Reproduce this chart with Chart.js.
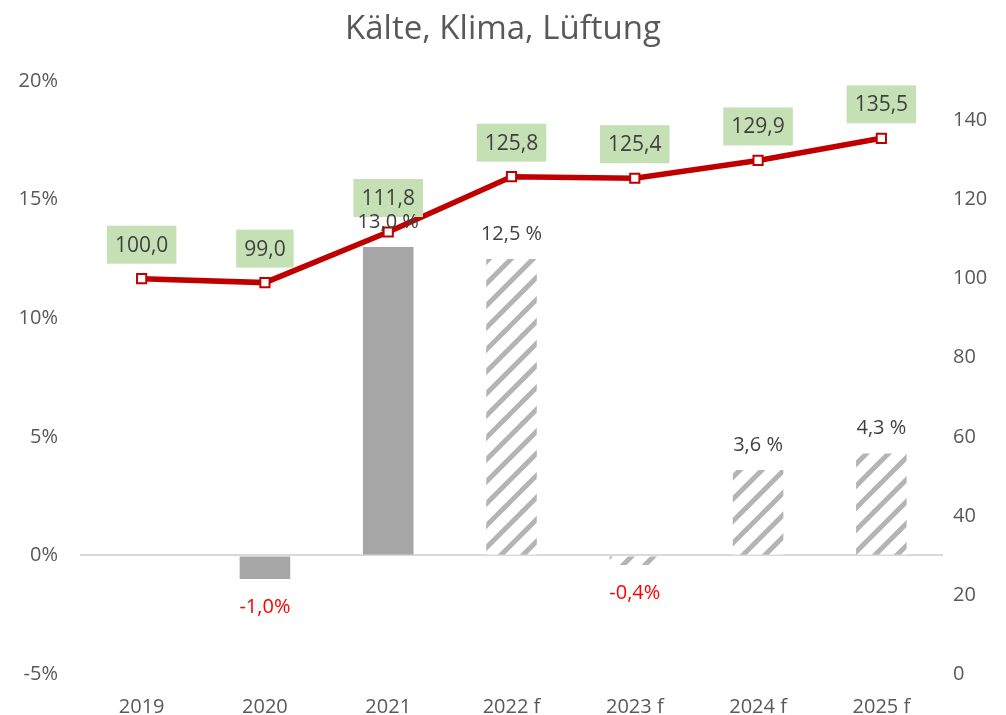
<!DOCTYPE html>
<html>
<head>
<meta charset="utf-8">
<script src="https://cdn.jsdelivr.net/npm/chart.js@4"></script>
<style>
  html, body { margin: 0; padding: 0; background: #fff; }
  #wrap { width: 1006px; height: 715px; }
</style>
</head>
<body>
<div id="wrap"><canvas id="chart" width="1006" height="715"></canvas></div>
<script>
const years = ["2019", "2020", "2021", "2022 f", "2023 f", "2024 f", "2025 f"];
const growth = [null, -1.0, 13.0, 12.5, -0.4, 3.6, 4.3];
const indexValues = [100.0, 99.0, 111.8, 125.8, 125.4, 129.9, 135.5];
const isForecast = [false, false, false, true, true, true, true];
const leftTicks = [-5, 0, 5, 10, 15, 20];
const rightTicks = [0, 20, 40, 60, 80, 100, 120, 140];

const FONT = "'Open Sans', 'Noto Sans', sans-serif";
const fmt = (v) => v.toFixed(1).replace(".", ",");

// diagonal hatch used for forecast bars
const makeHatch = () => {
  const c = document.createElement("canvas");
  c.width = 22; c.height = 22;
  const g = c.getContext("2d");
  g.fillStyle = "#fff";
  g.fillRect(0, 0, 22, 22);
  g.strokeStyle = "#b4b4b4";
  g.lineWidth = 5;
  for (let k = -1; k <= 1; k++) {
    g.beginPath();
    g.moveTo(k * 22 - 2, 24);
    g.lineTo(k * 22 + 24, -2);
    g.stroke();
  }
  return g.createPattern(c, "repeat");
};

const hatch = makeHatch();

const labelPlugin = {
  id: "labels",
  afterDatasetsDraw(chart) {
    const ctx = chart.ctx;
    ctx.save();
    ctx.font = "21px " + FONT;
    ctx.textAlign = "center";
    ctx.textBaseline = "middle";

    chart.getDatasetMeta(0).data.forEach((pt, i) => {
      const text = fmt(indexValues[i]);
      const w = ctx.measureText(text).width + 16;
      const h = 38;
      const cy = pt.y - 34;
      ctx.fillStyle = "#c5e0b4";
      ctx.fillRect(pt.x - w / 2, cy - h / 2, w, h);
      ctx.fillStyle = "#404040";
      ctx.fillText(text, pt.x, cy + 1);
    });

    ctx.font = "20px " + FONT;
    chart.getDatasetMeta(1).data.forEach((bar, i) => {
      const v = growth[i];
      if (v === null) return;
      if (v < 0) {
        ctx.fillStyle = "#ff0000";
        ctx.fillText(fmt(v) + "%", bar.x, bar.y + 28);
      } else {
        ctx.fillStyle = "#404040";
        ctx.fillText(fmt(v) + " %", bar.x, bar.y - 25);
      }
    });
    ctx.restore();
  }
};

new Chart(document.getElementById("chart"), {
  data: {
    labels: years,
    datasets: [
      {
        type: "line",
        label: "Index",
        data: indexValues,
        yAxisID: "y1",
        borderColor: "#c00000",
        borderWidth: 5.5,
        pointStyle: "rect",
        pointRadius: 6.5,
        pointBorderWidth: 2,
        pointBackgroundColor: "#ffffff",
        pointBorderColor: "#c00000",
        tension: 0
      },
      {
        type: "bar",
        label: "Veränderung",
        data: growth,
        yAxisID: "y",
        backgroundColor: isForecast.map((f) => (f ? hatch : "#a6a6a6")),
        barPercentage: 0.5,
        categoryPercentage: 0.82
      }
    ]
  },
  options: {
    responsive: false,
    animation: false,
    layout: { padding: { top: 0, bottom: 0, left: 0, right: 0 } },
    plugins: {
      legend: { display: false },
      tooltip: { enabled: false },
      title: {
        display: true,
        text: "Kälte, Klima, Lüftung",
        color: "#595959",
        font: { family: FONT, size: 33, weight: "normal" },
        padding: { top: 10, bottom: 31.4 }
      }
    },
    scales: {
      x: {
        grid: { display: false, drawTicks: false },
        border: { display: false },
        ticks: { color: "#595959", font: { family: FONT, size: 20 }, padding: 21 },
        afterFit: (s) => { s.height = 41; }
      },
      y: {
        position: "left",
        min: -5,
        max: 20,
        afterBuildTicks: (s) => { s.ticks = leftTicks.map((v) => ({ value: v })); },
        grid: {
          drawTicks: false,
          color: (c) => (c.tick && c.tick.value === 0 ? "#d9d9d9" : "transparent"),
          lineWidth: 2
        },
        border: { display: false },
        ticks: {
          color: "#595959",
          font: { family: FONT, size: 20 },
          padding: 22,
          callback: (v) => v + "%"
        },
        afterFit: (s) => { s.width = 80; }
      },
      y1: {
        position: "right",
        min: 0,
        max: 150,
        afterBuildTicks: (s) => { s.ticks = rightTicks.map((v) => ({ value: v })); },
        grid: { display: false, drawTicks: false },
        border: { display: false },
        ticks: {
          color: "#595959",
          font: { family: FONT, size: 20 },
          padding: 10
        },
        afterFit: (s) => { s.width = 63; }
      }
    }
  },
  plugins: [labelPlugin]
});
</script>
</body>
</html>
